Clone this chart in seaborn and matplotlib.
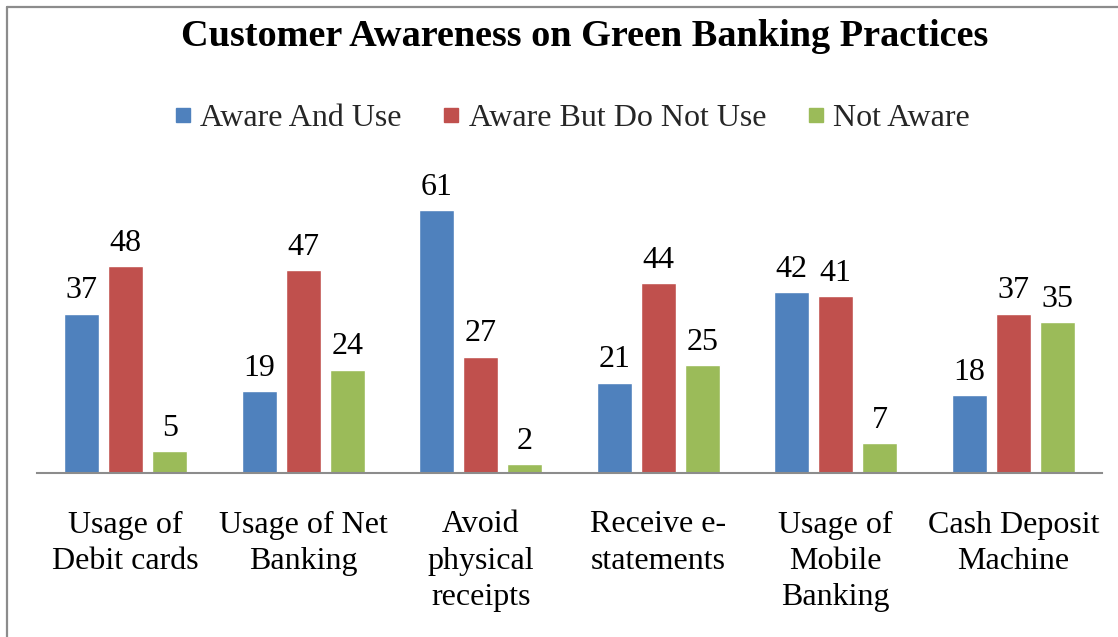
import matplotlib
matplotlib.use("Agg")
import matplotlib.pyplot as plt
from matplotlib.lines import Line2D
import seaborn as sns
import pandas as pd

categories = ["Usage of\nDebit cards", "Usage of Net\nBanking", "Avoid\nphysical\nreceipts",
              "Receive e-\nstatements", "Usage of\nMobile\nBanking", "Cash Deposit\nMachine"]
series_names = ["Aware And Use", "Aware But Do Not Use", "Not Aware"]
aware_and_use = [37, 19, 61, 21, 42, 18]
aware_not_use = [48, 47, 27, 44, 41, 37]
not_aware = [5, 24, 2, 25, 7, 35]
colors = ["#4F81BD", "#C0504D", "#9BBB59"]

rows = []
for name, vals in zip(series_names, [aware_and_use, aware_not_use, not_aware]):
    for c, v in zip(categories, vals):
        rows.append({"cat": c, "series": name, "value": v})
df = pd.DataFrame(rows)

sns.set_theme(style="white")
plt.rcParams["font.family"] = ["Liberation Serif", "DejaVu Serif"]

fig = plt.figure(figsize=(11.18, 6.37), dpi=100)
ax = fig.add_axes([37/1118, 1 - 473/637, (1102-37)/1118, 0.4735])

sns.barplot(data=df, x="cat", y="value", hue="series", order=categories,
            hue_order=series_names, palette=colors, width=0.745, gap=0.2,
            saturation=1, ax=ax, legend=False, errorbar=None)

for cont in ax.containers:
    ax.bar_label(cont, padding=6, fontsize=23, color="black")

ax.set_xlim(-0.5, 5.5)
ax.set_ylim(0, 70)
ax.set_xlabel("")
ax.set_ylabel("")
ax.set_yticks([])
for s in ["left", "right", "top"]:
    ax.spines[s].set_visible(False)
ax.spines["bottom"].set_color("#8c8c8c")
ax.spines["bottom"].set_linewidth(1.5)
ax.tick_params(axis="x", length=0, pad=27, labelsize=23, labelcolor="black")
for lab in ax.get_xticklabels():
    lab.set_linespacing(1.32)

fig.text(585/1118, 1 - 37/637, "Customer Awareness on Green Banking Practices",
         ha="center", va="center", fontsize=27.5, fontweight="bold", color="black")

handles = [Line2D([0], [0], marker="s", linestyle="none", markersize=9.5,
                  markerfacecolor=c, markeredgecolor=c) for c in colors]
fig.legend(handles, series_names, loc="center", bbox_to_anchor=(570/1118, 1 - 118/637),
           ncol=3, frameon=False, fontsize=23, handletextpad=0.15,
           columnspacing=1.15, handlelength=0.8)

fig.add_artist(Line2D([7/1118, 7/1118], [0, 1 - 7/637], color="#8c8c8c", linewidth=1.6,
                      transform=fig.transFigure))
fig.add_artist(Line2D([7/1118, 1], [1 - 7/637, 1 - 7/637], color="#8c8c8c", linewidth=1.6,
                      transform=fig.transFigure))

fig.savefig("out.png", dpi=100, facecolor="white")
